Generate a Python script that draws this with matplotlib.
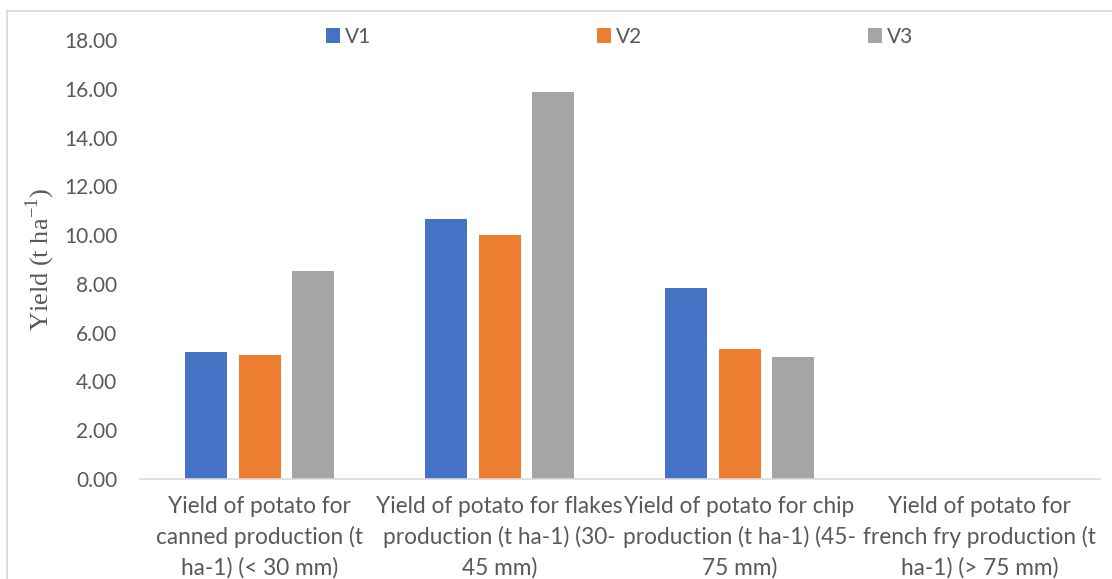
import numpy as np
import matplotlib.pyplot as plt
from matplotlib.lines import Line2D

# yield by tuber size class for three varieties
categories = [
    "Yield of potato for\ncanned production (t\nha-1) (< 30 mm)",
    "Yield of potato for flakes\nproduction (t ha-1) (30-\n45 mm)",
    "Yield of potato for chip\nproduction (t ha-1) (45-\n75 mm)",
    "Yield of potato for\nfrench fry production (t\nha-1) (> 75 mm)",
]
series_names = ["V1", "V2", "V3"]
v1 = [5.22, 10.68, 7.82, 0.0]
v2 = [5.10, 10.02, 5.32, 0.0]
v3 = [8.52, 15.86, 5.02, 0.0]
yticks = [0, 2, 4, 6, 8, 10, 12, 14, 16, 18]

colors = ["#4472C4", "#ED7D31", "#A5A5A5"]
text_color = "#595959"

plt.rcParams["font.family"] = ["Lato", "DejaVu Sans"]
plt.rcParams["mathtext.fontset"] = "custom"
plt.rcParams["mathtext.rm"] = "Liberation Serif"

fig = plt.figure(figsize=(11.12, 5.79), dpi=100)
ax = fig.add_axes([139.5 / 1112, 100 / 579, 960 / 1112, 439 / 579])

x = np.arange(len(categories))
width = 0.175
step = 0.221
for i, (name, vals) in enumerate(zip(series_names, [v1, v2, v3])):
    ax.bar(x + (i - 1) * step, vals, width, color=colors[i], label=name)

ax.set_xlim(-0.5, len(categories) - 0.5)
ax.set_ylim(0, 18)
ax.set_yticks(yticks)
ax.set_yticklabels([f"{t:.2f}" for t in yticks])
ax.set_xticks(x)
ax.set_xticklabels(categories, linespacing=1.5)

for side in ["top", "right", "left"]:
    ax.spines[side].set_visible(False)
ax.spines["bottom"].set_color("#d9d9d9")
ax.spines["bottom"].set_linewidth(1.2)

ax.tick_params(axis="y", length=0, pad=16, labelsize=15, labelcolor=text_color)
ax.tick_params(axis="x", length=0, pad=12, labelsize=16.3, labelcolor=text_color)

ax.set_ylabel("Yield (t ha$^{\\mathrm{-1}}$)", family="Liberation Serif",
              fontsize=19, color=text_color)
ax.yaxis.set_label_coords(-0.086, 0.5)

leg = ax.legend(loc="center left", bbox_to_anchor=(186 / 960, 442 / 439), ncol=3,
                frameon=False, fontsize=15, handlelength=0.7, handleheight=0.7,
                handletextpad=0.25, columnspacing=10.8, borderaxespad=0,
                borderpad=0)
for t in leg.get_texts():
    t.set_color(text_color)

# chart area border
border = "#d9d9d9"
fig.add_artist(Line2D([7 / 1112, 1], [1 - 11 / 579, 1 - 11 / 579], color=border, lw=1.2))
fig.add_artist(Line2D([7 / 1112, 7 / 1112], [0, 1 - 11 / 579], color=border, lw=1.2))

fig.savefig("out.png", dpi=100)
